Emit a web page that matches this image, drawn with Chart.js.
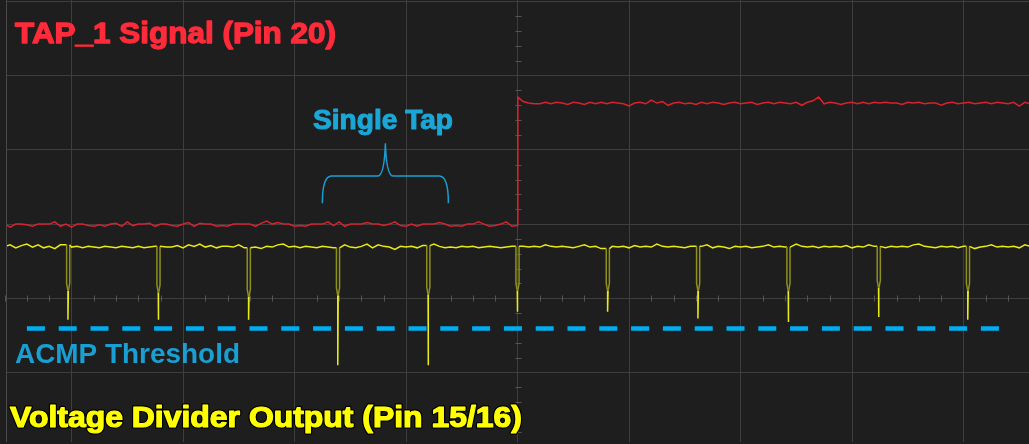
<!DOCTYPE html>
<html><head><meta charset="utf-8">
<script src="https://cdn.jsdelivr.net/npm/chart.js@4.4.1/dist/chart.umd.min.js"></script>
<style>
html,body{margin:0;padding:0;background:#1e1e1e;overflow:hidden;}
#wrap{position:relative;width:1029px;height:444px;}
canvas{display:block;}
</style></head><body>
<div id="wrap"><canvas id="c" width="1029" height="444"></canvas></div>
<script>
// ---- time base: samples every 5 ms, 100 ms / div, 100 units / div vertically ----
const sampleStart = -460;
const sampleStep = 5;

// TAP_1 signal (red), low before the step, high after
const redValues = [
 100,96,100,100,99,97,100,100,100,103,97,100,96,100,100,98,97,99,97,100,
 101,97,103,98,100,100,101,97,100,100,98,97,100,102,97,101,100,100,97,98,
 97,100,100,100,100,97,101,104,100,102,100,100,97,98,97,100,100,100,103,98,
 103,97,100,100,100,102,100,100,98,100,103,98,97,100,97,100,100,100,102,100,
 97,98,97,100,100,103,100,97,98,100,103,97,98,
 265,263,262,262,264,262,264,263,261,264,263,261,264,262,264,262,264,263,262,259,
 263,264,262,267,263,265,260,263,264,262,263,261,264,262,264,263,261,263,264,262,
 263,264,261,263,264,262,264,263,262,264,260,264,266,271,262,264,263,261,263,264,
 262,264,262,264,263,264,263,263,261,264,263,264,262,263,263,260,263,264,262,263,
 264,262,263,264,262,264,263,262,264,259,264,262
];
const redStepTime = 0.3;
const redStepOvershoot = 271;

// Voltage divider output (yellow) baseline samples
const yellowValues = [
 70,72,68,71,73,69,72,68,70,67, 72,69,69,70,68,70,69,68,70,69,
 68,70,69,68,70,68,69,70,67,69, 69,71,68,72,70,73,69,71,68,70,
 70,69,72,68,70,69,67,70,69,72, 73,69,70,68,70,69,68,70,69,68,
 70,72,69,68,70,73,68,72,70,69, 66,70,69,70,68,71,69,73,70,68,
 69,68,70,69,70,68,69,70,69,68, 69,70,72,70,69,70,69,72,70,69,
 70,69,68,70,72,69,70,67,69,70, 69,70,68,71,69,70,69,73,70,69,
 70,69,68,70,69,70,72,68,70,69, 67,70,69,70,68,69,70,72,69,70,
 69,70,73,70,69,70,68,70,69,70, 69,71,68,70,69,72,70,69,68,70,
 69,70,69,72,73,70,69,68,70,69, 70,68,70,69,67,69,70,72,69,70,
 69,70,68,72,70
];
// tap pulses on the yellow trace
const spikeTimes    = [-403,-322,-241,-161,-80,0,81,162,243,324,404];
const spikeMinimums = [-29,-29,-29,-90,-90,-18,-18,-27,-32,-25,-29];
const spikeShoulders= [20,18,12,14,15,20,20,20,20,24,20];

// ACMP threshold
const thresholdLevel = -40.7;
const thresholdStart = -440;
const thresholdEnd = 435.4;

// build library datasets
const redPts = [];
for (let k = 0; k < redValues.length; k++) {
  const t = sampleStart + k * sampleStep;
  redPts.push({x: t, y: redValues[k]});
  if (t === 0) redPts.push({x: redStepTime, y: redStepOvershoot});
}

const OL = '#8f8f1d', YE = '#eaea14';
const yPts = [], ySeg = [];
let si = 0;
function addSpike(i) {
  const ts = spikeTimes[i], base = yPts.length ? yPts[yPts.length-1].y : 69;
  const sh = spikeShoulders[i], mn = spikeMinimums[i];
  const pts = [
    [ts-1.4, base, OL], [ts-1.4, sh, OL], [ts-0.2, sh-10, YE], [ts-0.2, mn, YE],
    [ts+0.2, sh-10, OL], [ts+1.4, sh, OL], [ts+1.4, base, YE]
  ];
  pts.forEach(p => { yPts.push({x: p[0], y: p[1]}); ySeg.push(p[2]); });
}
for (let k = 0; k < yellowValues.length; k++) {
  const t = sampleStart + k * sampleStep;
  while (si < spikeTimes.length && spikeTimes[si] < t) { addSpike(si); si++; }
  if (spikeTimes.some(ts => Math.abs(ts - t) < 2.5)) continue;
  yPts.push({x: t, y: yellowValues[k]}); ySeg.push(YE);
}

const labels = [
  {text: 'TAP_1 Signal (Pin 20)', x: 15, y: 43, size: 29, width: 321, color: '#ff2b3a', heavy: 1.3},
  {text: 'Single Tap', x: 313, y: 129, size: 27, width: 140, color: '#1ba6d8', heavy: 1.0},
  {text: 'ACMP Threshold', x: 15, y: 363, size: 28, width: 225, color: '#1a9fd3', heavy: 0},
  {text: 'Voltage Divider Output (Pin 15/16)', x: 10, y: 427, size: 29, width: 512, color: '#ffff00', heavy: 1.2, outline: true}
];
const brace = {left: -175, right: -62, center: -118.5, bottom: 128, mid: 164.6, tip: 209};

const overlay = {
  id: 'overlay',
  beforeDraw(chart) {
    const c = chart.ctx; c.save(); c.fillStyle = '#1e1e1e'; c.fillRect(0, 0, chart.width, chart.height); c.restore();
  },
  beforeDatasetsDraw(chart) {
    const c = chart.ctx, xs = chart.scales.x, ys = chart.scales.y, a = chart.chartArea;
    c.save();
    c.strokeStyle = '#4a4a4a'; c.lineWidth = 1;
    c.beginPath(); c.moveTo(a.left - 0.5, a.top); c.lineTo(a.left - 0.5, a.bottom); c.stroke();
    c.strokeStyle = '#545454';
    const y0 = Math.round(ys.getPixelForValue(0)) + 0.5;
    const x0 = Math.round(xs.getPixelForValue(0)) + 0.5;
    c.beginPath();
    for (let t = -460; t <= 460; t += 20) {
      if (t % 100 === 0) continue;
      const px = Math.round(xs.getPixelForValue(t)) + 0.5;
      c.moveTo(px, y0 - 3); c.lineTo(px, y0 + 3);
    }
    for (let v = -180; v <= 400; v += 20) {
      if (v % 100 === 0) continue;
      const py = Math.round(ys.getPixelForValue(v)) + 0.5;
      c.moveTo(x0 - 3, py); c.lineTo(x0 + 3, py);
    }
    c.stroke();
    c.restore();
  },
  afterDatasetsDraw(chart) {
    const c = chart.ctx, xs = chart.scales.x, ys = chart.scales.y;
    c.save();
    // brace
    const L = xs.getPixelForValue(brace.left), R = xs.getPixelForValue(brace.right), C = xs.getPixelForValue(brace.center);
    const B = ys.getPixelForValue(brace.bottom), M = ys.getPixelForValue(brace.mid), T = ys.getPixelForValue(brace.tip);
    c.strokeStyle = '#1a9fd3'; c.lineWidth = 1.5;
    c.beginPath();
    c.moveTo(L, B); c.quadraticCurveTo(L, M, L + 9, M); c.lineTo(C - 8, M);
    c.quadraticCurveTo(C - 1, M, C, T); c.quadraticCurveTo(C + 1, M, C + 8, M);
    c.lineTo(R - 9, M); c.quadraticCurveTo(R, M, R, B);
    c.stroke();
    // labels
    labels.forEach(l => {
      c.save();
      c.font = 'bold ' + l.size + 'px "Liberation Sans", Arial, sans-serif';
      c.textBaseline = 'alphabetic'; c.textAlign = 'left';
      const w = c.measureText(l.text).width;
      c.translate(l.x, l.y); c.scale(l.width / w, 1);
      c.lineJoin = 'round';
      if (l.outline) { c.strokeStyle = '#000'; c.lineWidth = 3.5; c.strokeText(l.text, 0, 0); }
      if (l.heavy) { c.strokeStyle = l.color; c.lineWidth = l.heavy; c.strokeText(l.text, 0, 0); }
      c.fillStyle = l.color; c.fillText(l.text, 0, 0);
      c.restore();
    });
    c.restore();
  }
};

new Chart(document.getElementById('c'), {
  type: 'line',
  data: {
    datasets: [
      {label: 'Voltage Divider Output (Pin 15/16)', data: yPts, borderColor: YE, borderWidth: 1.5,
       pointRadius: 0, tension: 0, order: 1,
       segment: {borderColor: ctx => ySeg[ctx.p0DataIndex]}},
      {label: 'TAP_1 Signal (Pin 20)', data: redPts, borderColor: '#d8222f', borderWidth: 1.5,
       pointRadius: 0, tension: 0, order: 2},
      {label: 'ACMP Threshold', data: [{x: thresholdStart, y: thresholdLevel}, {x: thresholdEnd, y: thresholdLevel}],
       borderColor: '#00aeef', borderWidth: 4.5, borderDash: [18, 13.8], borderCapStyle: 'butt',
       pointRadius: 0, order: 3}
    ]
  },
  options: {
    responsive: false, animation: false, devicePixelRatio: 1,
    layout: {padding: {left: 7, top: 0, right: 0, bottom: 2}},
    plugins: {legend: {display: false}, tooltip: {enabled: false}, title: {display: false}},
    events: [],
    scales: {
      x: {type: 'linear', min: -457.85, max: 458.74,
          afterBuildTicks: s => { s.ticks = [-400,-300,-200,-100,0,100,200,300,400].map(v => ({value: v})); },
          ticks: {display: false}, border: {display: false},
          grid: {color: '#3e3e3e', lineWidth: 1, drawTicks: false}},
      y: {type: 'linear', min: -193.5, max: 401.8,
          afterBuildTicks: s => { s.ticks = [-100,0,100,200,300,400].map(v => ({value: v})); },
          ticks: {display: false}, border: {display: false},
          grid: {color: '#3e3e3e', lineWidth: 1, drawTicks: false}}
    }
  },
  plugins: [overlay]
});
</script></body></html>
